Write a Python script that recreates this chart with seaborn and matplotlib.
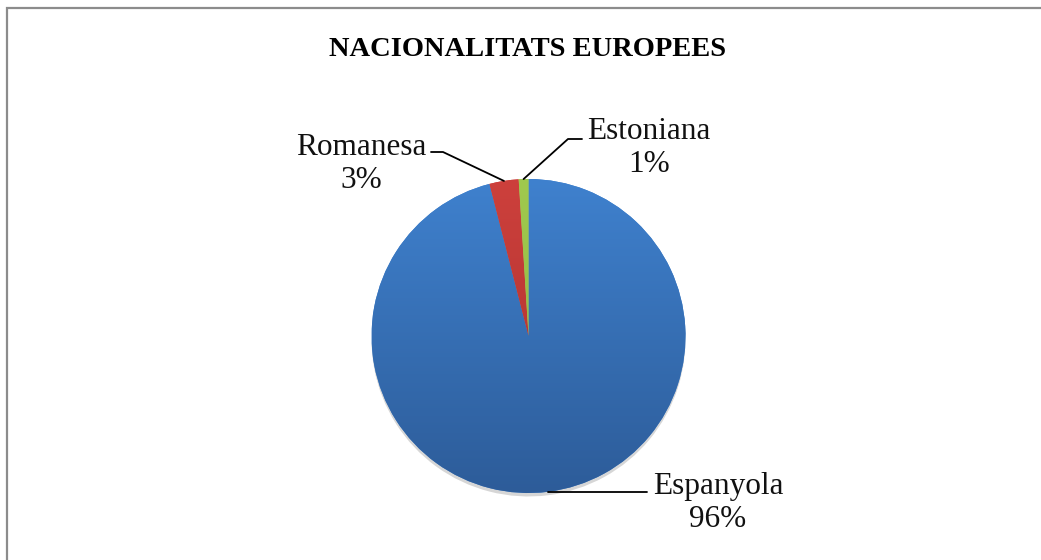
import numpy as np
import matplotlib.pyplot as plt
import matplotlib.colors as mcolors
from matplotlib.patches import Rectangle
import seaborn as sns

sns.set_theme(style="white")
plt.rcParams['font.family'] = ['Liberation Serif', 'DejaVu Serif']

title = "NACIONALITATS EUROPEES"
labels = ["Espanyola", "Romanesa", "Estoniana"]
shares = [96, 3, 1]
top_colors = ["#3f81ce", "#cd403c", "#a0c94e"]
bottom_colors = ["#2d5c99", "#a8302d", "#8fb540"]

W, H = 1041, 560
fig = plt.figure(figsize=(W / 100, H / 100), dpi=100)
ax = fig.add_axes([0, 0, 1, 1])

cx, cy, r = 528.5, H - 336, 157
wedges, _ = ax.pie(shares, startangle=90, counterclock=False, center=(cx, cy),
                   radius=r, colors=top_colors, frame=True,
                   wedgeprops=dict(linewidth=0),
                   shadow=dict(ox=0, oy=-2.5, facecolor='#8a8a8a', edgecolor='none',
                               alpha=0.35))
ax.set_xlim(0, W)
ax.set_ylim(0, H)
ax.set_aspect('equal')
ax.axis('off')

# vertical gradient inside each wedge
grad = np.linspace(0, 1, 256).reshape(-1, 1)
for w, c0, c1 in zip(wedges, top_colors, bottom_colors):
    cmap = mcolors.LinearSegmentedColormap.from_list("g", [c1, c0])
    im = ax.imshow(grad, cmap=cmap, origin='lower', aspect='auto',
                   extent=(cx - r, cx + r, cy - r, cy + r), zorder=w.get_zorder() + 0.1)
    im.set_clip_path(w)

ax.set_xlim(0, W)
ax.set_ylim(0, H)

# label layout: elbow of the leader line, its end, and the text block centre
layout = {
    "Espanyola": dict(end=(647, None), text=(718, H - 503)),
    "Romanesa": dict(elbow=(443, H - 152), end=(431, H - 152), text=(361, H - 164)),
    "Estoniana": dict(elbow=(568, H - 139), end=(582, H - 139), text=(649, H - 148)),
}
for w, lab, val in zip(wedges, labels, shares):
    mid = np.deg2rad((w.theta1 + w.theta2) / 2)
    px, py = cx + r * np.cos(mid), cy + r * np.sin(mid)
    lay = layout[lab]
    if 'elbow' in lay:
        ex, ey = lay['elbow']
        fx, fy = lay['end']
        ax.plot([px, ex, fx], [py, ey, fy], color='black', lw=1.3, zorder=5)
    else:
        ax.plot([px, lay['end'][0]], [py, py], color='black', lw=1.3, zorder=5)
    ax.text(lay['text'][0], lay['text'][1], f"{lab}\n{val}%", ha='center', va='center',
            multialignment='center', fontsize=22.5, linespacing=1.2, color='#111111')

fig.text(528 / W, 1 - 50 / H, title, ha='center', va='center', fontsize=20.5,
         fontweight='bold', color='black')

# chart frame (only top and left edges fall inside the image)
fig.patches.append(Rectangle((6.5 / W, -0.1), 1.2, 1.1 - 7.5 / H,
                             transform=fig.transFigure, fill=False,
                             edgecolor='#8c8c8c', linewidth=1.6))

fig.savefig('out.png', dpi=100)
